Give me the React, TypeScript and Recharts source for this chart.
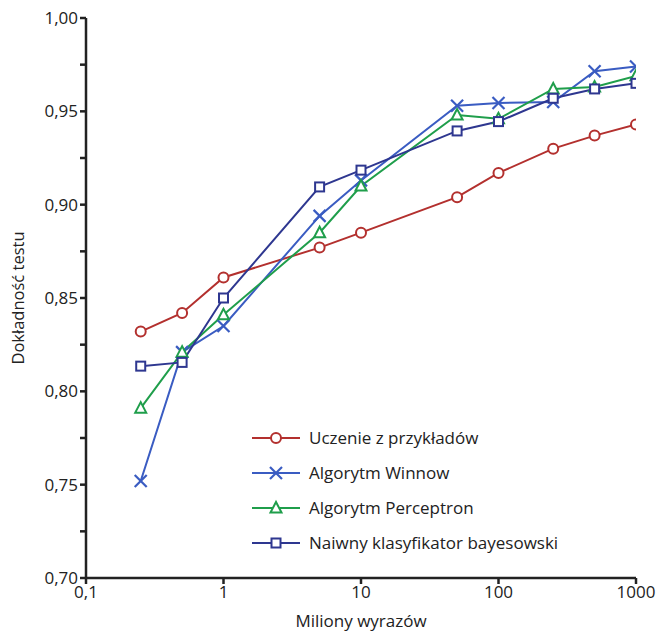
import React from 'react';
import { LineChart, Line, XAxis, YAxis } from 'recharts';

const words = [0.25, 0.5, 1, 5, 10, 50, 100, 250, 500, 1000];
const uczenie = [0.832, 0.842, 0.861, 0.877, 0.885, 0.904, 0.917, 0.930, 0.937, 0.943];
const winnow = [0.752, 0.821, 0.835, 0.894, 0.913, 0.953, 0.9545, 0.955, 0.9715, 0.974];
const perceptron = [0.791, 0.821, 0.841, 0.885, 0.910, 0.948, 0.946, 0.962, 0.963, 0.969];
const bayes = [0.8135, 0.8155, 0.850, 0.9095, 0.9185, 0.9395, 0.9445, 0.957, 0.962, 0.965];
const xTicks = [0.1, 1, 10, 100, 1000];
const yTicks = [0.7, 0.725, 0.75, 0.775, 0.8, 0.825, 0.85, 0.875, 0.9, 0.925, 0.95, 0.975, 1.0];
const seriesNames = ['Uczenie z przykładów', 'Algorytm Winnow', 'Algorytm Perceptron', 'Naiwny klasyfikator bayesowski'];

const data = words.map((w, i) => ({
  x: w,
  u: uczenie[i],
  w: winnow[i],
  p: perceptron[i],
  b: bayes[i],
}));

const RED = '#b3302e';
const BLUE = '#3a5cc2';
const GREEN = '#1f9e4b';
const NAVY = '#2e3790';
const FONT = '"Open Sans", "Noto Sans", sans-serif';
const TXT = '#222';

type Kind = 'circle' | 'x' | 'tri' | 'square';

const Marker = ({ kind, cx, cy, color }: { kind: Kind; cx: number; cy: number; color: string }) => {
  if (kind === 'circle') return <circle cx={cx} cy={cy} r={5} fill="#fff" stroke={color} strokeWidth={2} />;
  if (kind === 'x')
    return (
      <g stroke={color} strokeWidth={2.2}>
        <line x1={cx - 6} y1={cy - 6} x2={cx + 6} y2={cy + 6} />
        <line x1={cx - 6} y1={cy + 6} x2={cx + 6} y2={cy - 6} />
      </g>
    );
  if (kind === 'tri')
    return (
      <polygon
        points={`${cx},${cy - 6} ${cx - 5.5},${cy + 4.5} ${cx + 5.5},${cy + 4.5}`}
        fill="#fff"
        stroke={color}
        strokeWidth={2}
      />
    );
  return <rect x={cx - 4.5} y={cy - 4.5} width={9} height={9} fill="#fff" stroke={color} strokeWidth={2} />;
};

const makeDot = (kind: Kind, color: string) => (props: any) => {
  const { cx, cy, index } = props;
  if (cx == null || cy == null) return <g key={`d-${kind}-${index}`} />;
  return (
    <g key={`d-${kind}-${index}`}>
      <Marker kind={kind} cx={cx} cy={cy} color={color} />
    </g>
  );
};

const legendItems: { kind: Kind; color: string }[] = [
  { kind: 'circle', color: RED },
  { kind: 'x', color: BLUE },
  { kind: 'tri', color: GREEN },
  { kind: 'square', color: NAVY },
];

const LegendBox = () => (
  <svg width={360} height={130} style={{ position: 'absolute', left: 250, top: 426 }}>
    {legendItems.map((it, i) => {
      const y = 12 + i * 35;
      return (
        <g key={i}>
          <line x1={2} y1={y} x2={50} y2={y} stroke={it.color} strokeWidth={2} />
          <Marker kind={it.kind} cx={26} cy={y} color={it.color} />
          <text x={59} y={y + 6} fontSize={17} fontFamily={FONT} fill={TXT}>
            {seriesNames[i]}
          </text>
        </g>
      );
    })}
  </svg>
);

const fmtY = (v: number) => {
  const r = Math.round(v * 1000);
  if (r % 50 !== 0) return '';
  return v.toFixed(2).replace('.', ',');
};
const fmtX = (v: number) => String(v).replace('.', ',');

const YLabel = (props: any) => {
  const vb = props.viewBox || {};
  const cy = (vb.y ?? 18) + (vb.height ?? 560) / 2;
  return (
    <text x={24} y={cy} transform={`rotate(-90 24 ${cy})`} textAnchor="middle" fontSize={16.5} fontFamily={FONT} fill={TXT}>
      Dokładność testu
    </text>
  );
};

const XLabel = (props: any) => {
  const vb = props.viewBox || {};
  const cx = (vb.x ?? 86) + (vb.width ?? 550) / 2;
  return (
    <text x={cx} y={627} textAnchor="middle" fontSize={17} fontFamily={FONT} fill={TXT}>
      Miliony wyrazów
    </text>
  );
};

export default function App() {
  return (
    <div style={{ position: 'absolute', left: 0, top: 0, width: 660, height: 634, background: '#fff' }}>
      <LineChart width={660} height={634} data={data} margin={{ top: 18, right: 24, left: 30, bottom: 20 }}>
        <XAxis
          dataKey="x"
          type="number"
          scale="log"
          domain={[0.1, 1000]}
          ticks={xTicks}
          tickFormatter={fmtX}
          allowDataOverflow
          stroke={TXT}
          strokeWidth={2.5}
          tickSize={6}
          height={36}
          tick={{ fill: TXT, fontSize: 17, fontFamily: FONT }}
          label={<XLabel />}
        />
        <YAxis
          type="number"
          domain={[0.7, 1.0]}
          ticks={yTicks}
          tickFormatter={fmtY}
          interval={0}
          stroke={TXT}
          strokeWidth={2.5}
          tickSize={6}
          width={56}
          tick={{ fill: TXT, fontSize: 17, fontFamily: FONT }}
          label={<YLabel />}
        />
        <Line dataKey="u" name={seriesNames[0]} stroke={RED} strokeWidth={2} dot={makeDot('circle', RED)} isAnimationActive={false} />
        <Line dataKey="w" name={seriesNames[1]} stroke={BLUE} strokeWidth={2} dot={makeDot('x', BLUE)} isAnimationActive={false} />
        <Line dataKey="p" name={seriesNames[2]} stroke={GREEN} strokeWidth={2} dot={makeDot('tri', GREEN)} isAnimationActive={false} />
        <Line dataKey="b" name={seriesNames[3]} stroke={NAVY} strokeWidth={2} dot={makeDot('square', NAVY)} isAnimationActive={false} />
      </LineChart>
      <LegendBox />
    </div>
  );
}
